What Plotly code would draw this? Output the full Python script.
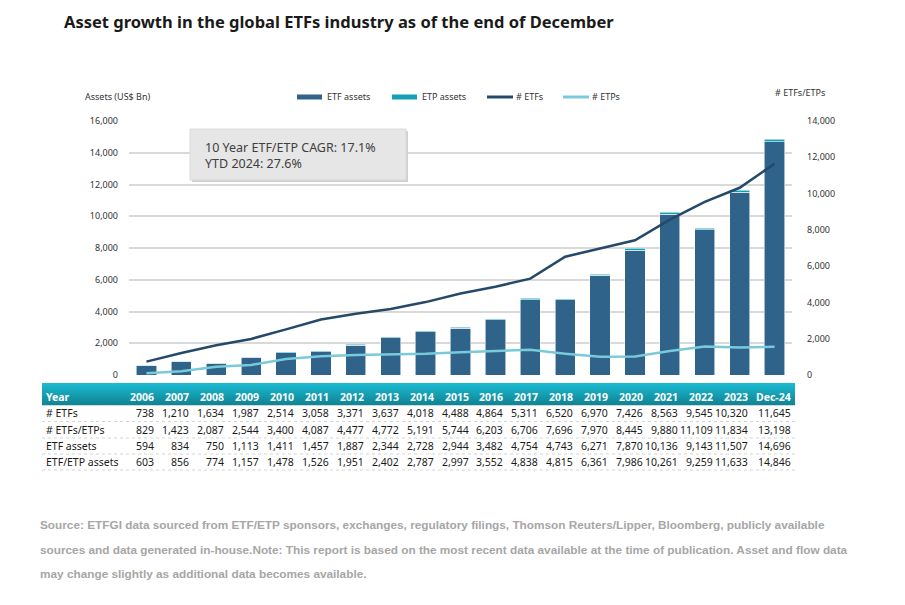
import plotly.graph_objects as go

years = ["2006","2007","2008","2009","2010","2011","2012","2013","2014","2015",
         "2016","2017","2018","2019","2020","2021","2022","2023","Dec-24"]
n_etfs = [738,1210,1634,1987,2514,3058,3371,3637,4018,4488,4864,5311,6520,6970,7426,8563,9545,10320,11645]
n_etf_etps = [829,1423,2087,2544,3400,4087,4477,4772,5191,5744,6203,6706,7696,7970,8445,9880,11109,11834,13198]
etf_assets = [594,834,750,1113,1411,1457,1887,2344,2728,2944,3482,4754,4743,6271,7870,10136,9143,11507,14696]
etf_etp_assets = [603,856,774,1157,1478,1526,1951,2402,2787,2997,3552,4838,4815,6361,7986,10261,9259,11633,14846]

etp_assets = [a - b for a, b in zip(etf_etp_assets, etf_assets)]
n_etps = [a - b for a, b in zip(n_etf_etps, n_etfs)]

OFF = 8  # page body margin
W, H = 905 - 2 * OFF, 605 - 2 * OFF
PL, PR, PT, PB = 129, 792, 121, 375  # plot area in window pixels
L, R, T, B = PL - OFF, W - (PR - OFF), PT - OFF, H - (PB - OFF)
PH = PB - PT
PW = PR - PL
def py(ypx):
    return (PB - ypx) / PH
def px(xpx):
    return (xpx - PL) / PW

FONT = "Noto Sans"
C_ETF = "#2f6389"
C_ETP = "#139fb4"
C_LINE1 = "#24496a"
C_LINE2 = "#79cadb"

fig = go.Figure()
fig.add_bar(x=years, y=etf_assets, name="ETF assets", marker_color=C_ETF,
            marker_line=dict(color="rgba(255,255,255,0.7)", width=0.8))
fig.add_bar(x=years, y=etp_assets, name="ETP assets", marker_color=C_ETP,
            marker_line=dict(color="rgba(255,255,255,0.7)", width=0.8))
fig.add_scatter(x=years, y=n_etfs, name="# ETFs", mode="lines", yaxis="y2",
                line=dict(color=C_LINE1, width=2.5))
fig.add_scatter(x=years, y=n_etps, name="# ETPs", mode="lines", yaxis="y2",
                line=dict(color=C_LINE2, width=2.5))

shapes = []
ann = []

# title
ann.append(dict(text="<b>Asset growth in the global ETFs industry as of the end of December</b>",
                xref="paper", yref="paper", x=px(62), y=py(8.5), xanchor="left", yanchor="top",
                showarrow=False, font=dict(family=FONT, size=16.5, color="#1a1a1a")))

# axis titles
ann.append(dict(text="Assets (US$ Bn)", xref="paper", yref="paper", x=px(83), y=py(97),
                xanchor="left", yanchor="middle", showarrow=False,
                font=dict(family=FONT, size=9, color="#333333")))
ann.append(dict(text="# ETFs/ETPs", xref="paper", yref="paper", x=px(773), y=py(92),
                xanchor="left", yanchor="middle", showarrow=False,
                font=dict(family=FONT, size=9, color="#333333")))

# legend
leg = [("ETF assets", C_ETF, "bar", 297), ("ETP assets", C_ETP, "bar", 392),
       ("# ETFs", C_LINE1, "line", 487), ("# ETPs", C_LINE2, "line", 563)]
for name, col, kind, x0 in leg:
    if kind == "bar":
        shapes.append(dict(type="rect", xref="paper", yref="paper", x0=px(x0), x1=px(x0 + 25),
                           y0=py(99.5), y1=py(94.5), fillcolor=col, line=dict(width=0)))
        tx = x0 + 28
    else:
        shapes.append(dict(type="line", xref="paper", yref="paper", x0=px(x0), x1=px(x0 + 26),
                           y0=py(97), y1=py(97), line=dict(color=col, width=3)))
        tx = x0 + 27
    ann.append(dict(text=name, xref="paper", yref="paper", x=px(tx), y=py(97),
                    xanchor="left", yanchor="middle", showarrow=False,
                    font=dict(family=FONT, size=9, color="#333333")))

# CAGR box
shapes.append(dict(type="rect", xref="paper", yref="paper", x0=px(192), x1=px(408),
                   y0=py(182), y1=py(131), fillcolor="#d0d0d0", line=dict(width=0)))
shapes.append(dict(type="rect", xref="paper", yref="paper", x0=px(190), x1=px(406),
                   y0=py(180), y1=py(129), fillcolor="#e6e6e6", line=dict(color="#dadada", width=1)))
ann.append(dict(text="10 Year ETF/ETP CAGR: 17.1%<br>YTD 2024: 27.6%", xref="paper", yref="paper",
                x=px(203), y=py(155), xanchor="left", yanchor="middle", align="left",
                showarrow=False, font=dict(family=FONT, size=12.5, color="#404040")))

# table header gradient
top, bot = 383, 405
c0, c1 = (26, 186, 208), (16, 134, 150)
steps = 11
for i in range(steps):
    f = i / (steps - 1)
    c = tuple(int(c0[k] + (c1[k] - c0[k]) * f) for k in range(3))
    y0 = top + (bot - top) * i / steps
    y1 = top + (bot - top) * (i + 1) / steps
    shapes.append(dict(type="rect", xref="paper", yref="paper", x0=px(42), x1=px(795),
                       y0=py(y1 + 0.3), y1=py(y0), fillcolor="rgb(%d,%d,%d)" % c, line=dict(width=0)))

row_labels = ["# ETFs", "# ETFs/ETPs", "ETF assets", "ETF/ETP assets"]
row_data = [n_etfs, n_etf_etps, etf_assets, etf_etp_assets]
row_y = [413, 429.5, 446, 462]
sep_y = [421.5, 438, 454, 470]
TF = 10.5

ann.append(dict(text="<b>Year</b>", xref="paper", yref="paper", x=px(44), y=py(397),
                xanchor="left", yanchor="middle", showarrow=False,
                font=dict(family=FONT, size=TF, color="white")))
last = len(years) - 1
for i, yr in enumerate(years):
    xs = 10 if i < last else 18
    ann.append(dict(text="<b>%s</b>" % yr, xref="x", yref="paper", x=i, y=py(397), xshift=xs,
                    xanchor="right", yanchor="middle", showarrow=False,
                    font=dict(family=FONT, size=TF, color="white")))
for lab, data, yy in zip(row_labels, row_data, row_y):
    ann.append(dict(text=lab, xref="paper", yref="paper", x=px(44), y=py(yy),
                    xanchor="left", yanchor="middle", showarrow=False,
                    font=dict(family=FONT, size=TF, color="#1a1a1a")))
    for i, v in enumerate(data):
        xs = 10 if i < last else 18
        ann.append(dict(text=f"{v:,}", xref="x", yref="paper", x=i, y=py(yy), xshift=xs,
                        xanchor="right", yanchor="middle", showarrow=False,
                        font=dict(family=FONT, size=TF, color="#1a1a1a")))
for yy in [405.5] + sep_y:
    shapes.append(dict(type="line", xref="paper", yref="paper", x0=px(42), x1=px(795),
                       y0=py(yy), y1=py(yy), line=dict(color="#d4d4d4", width=1, dash="dot")))

# source
src = ["Source: ETFGI data sourced from ETF/ETP sponsors, exchanges, regulatory filings, Thomson Reuters/Lipper, Bloomberg, publicly available",
       "sources and data generated in-house.Note: This report is based on the most recent data available at the time of publication. Asset and flow data",
       "may change slightly as additional data becomes available."]
for i, s in enumerate(src):
    ann.append(dict(text="<b>%s</b>" % s, xref="paper", yref="paper", x=px(38), y=py(525 + 24.5 * i),
                    xanchor="left", yanchor="middle", showarrow=False,
                    font=dict(family="Liberation Sans", size=11.8, color="#a6a6a6")))

fig.update_layout(
    width=W, height=H, margin=dict(l=L, r=R, t=T, b=B),
    paper_bgcolor="white", plot_bgcolor="white",
    barmode="stack", bargap=0.42, showlegend=False,
    font=dict(family=FONT, size=9, color="#333333"),
    xaxis=dict(type="category", showticklabels=False, showgrid=False, zeroline=False, showline=False,
               range=[-0.5, len(years) - 0.5], fixedrange=True),
    yaxis=dict(range=[0, 16000], dtick=2000, tickformat=",", showgrid=True,
               gridcolor="#d9d9d9", gridwidth=1.5, zeroline=False, showline=False,
               ticks="", ticklabelstandoff=10, tickfont=dict(size=9, color="#333333")),
    yaxis2=dict(range=[0, 14000], dtick=2000, tickformat=",", overlaying="y", side="right",
                showgrid=False, zeroline=False, showline=False, ticks="",
                ticklabelstandoff=14, tickfont=dict(size=9, color="#333333")),
    shapes=shapes, annotations=ann,
)

fig.write_html("out.html")
